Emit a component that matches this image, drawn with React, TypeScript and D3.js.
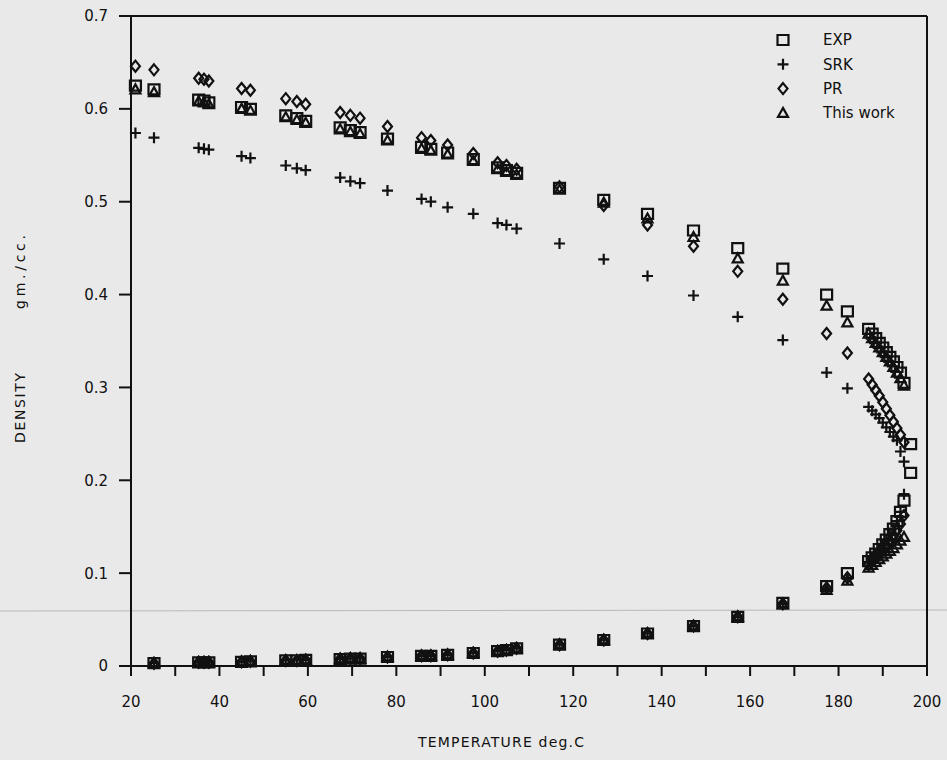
import React from 'react';
import * as d3 from 'd3';

// Temperatures (deg C) at which densities are reported
const temperatures = [
  21, 25.2, 35.3, 36.5, 37.6, 45, 47, 55, 57.5, 59.5,
  67.3, 69.6, 71.8, 78, 85.7, 87.8, 91.6, 97.4, 102.9, 104.9,
  107.2, 116.9, 126.9, 136.8, 147.2, 157.2, 167.4, 177.3, 182, 186.8,
  187.6, 188.4, 189.2, 190.0, 190.8, 191.6, 192.4, 193.2, 194.0, 194.8,
  196.3,
];

// Saturated liquid densities (gm./cc.)
const expLiquid = [
  0.625, 0.621, 0.610, 0.609, 0.607, 0.602, 0.600, 0.593, 0.590, 0.587,
  0.580, 0.577, 0.575, 0.568, 0.559, 0.557, 0.553, 0.546, 0.537, 0.534,
  0.531, 0.515, 0.502, 0.487, 0.469, 0.450, 0.428, 0.400, 0.382, 0.363,
  0.358, 0.353, 0.348, 0.343, 0.338, 0.333, 0.328, 0.322, 0.316, 0.305,
  0.239,
];
const srkLiquid = [
  0.574, 0.569, 0.558, 0.557, 0.556, 0.549, 0.547, 0.539, 0.536, 0.534,
  0.526, 0.522, 0.520, 0.512, 0.503, 0.500, 0.494, 0.487, 0.477, 0.475,
  0.471, 0.455, 0.438, 0.420, 0.399, 0.376, 0.351, 0.316, 0.299, 0.279,
  0.275, 0.271, 0.267, 0.262, 0.257, 0.252, 0.247, 0.243, 0.231, 0.220,
  null,
];
const prLiquid = [
  0.646, 0.642, 0.633, 0.632, 0.630, 0.622, 0.620, 0.611, 0.608, 0.605,
  0.596, 0.593, 0.590, 0.581, 0.569, 0.566, 0.561, 0.552, 0.542, 0.539,
  0.535, 0.516, 0.496, 0.475, 0.452, 0.425, 0.395, 0.358, 0.337, 0.309,
  0.303, 0.297, 0.291, 0.284, 0.277, 0.270, 0.263, 0.256, 0.249, 0.241,
  null,
];
const thisWorkLiquid = [
  0.621, 0.618, 0.608, 0.607, 0.605, 0.600, 0.598, 0.591, 0.588, 0.585,
  0.578, 0.575, 0.573, 0.566, 0.557, 0.555, 0.551, 0.544, 0.535, 0.532,
  0.529, 0.513, 0.499, 0.482, 0.462, 0.439, 0.415, 0.388, 0.370, 0.358,
  0.353, 0.348, 0.343, 0.338, 0.333, 0.328, 0.322, 0.316, 0.310, 0.302,
  null,
];

// Saturated vapour densities (gm./cc.)
const expVapor = [
  null, 0.003, 0.004, 0.004, 0.004, 0.0045, 0.005, 0.006, 0.006, 0.0065,
  0.0075, 0.008, 0.008, 0.0097, 0.011, 0.011, 0.012, 0.014, 0.016, 0.017,
  0.019, 0.023, 0.028, 0.035, 0.043, 0.053, 0.068, 0.086, 0.100, 0.113,
  0.117, 0.121, 0.126, 0.131, 0.136, 0.142, 0.148, 0.156, 0.166, 0.178,
  0.208,
];
const srkVapor = [
  null, 0.003, 0.004, 0.004, 0.004, 0.0045, 0.005, 0.006, 0.006, 0.0065,
  0.0075, 0.008, 0.008, 0.0097, 0.011, 0.011, 0.012, 0.014, 0.016, 0.017,
  0.019, 0.023, 0.028, 0.035, 0.043, 0.053, 0.067, 0.083, 0.094, 0.112,
  0.116, 0.120, 0.125, 0.130, 0.135, 0.141, 0.148, 0.156, 0.166, 0.185,
  null,
];
const prVapor = [
  null, 0.003, 0.004, 0.004, 0.004, 0.0045, 0.005, 0.006, 0.006, 0.0065,
  0.0075, 0.008, 0.008, 0.0097, 0.011, 0.011, 0.012, 0.014, 0.016, 0.017,
  0.019, 0.023, 0.028, 0.035, 0.043, 0.053, 0.067, 0.084, 0.095, 0.109,
  0.113, 0.117, 0.121, 0.125, 0.130, 0.135, 0.140, 0.146, 0.153, 0.162,
  null,
];
const thisWorkVapor = [
  null, 0.003, 0.004, 0.004, 0.004, 0.0045, 0.005, 0.006, 0.006, 0.0065,
  0.0075, 0.008, 0.008, 0.0097, 0.011, 0.011, 0.012, 0.014, 0.016, 0.017,
  0.019, 0.023, 0.028, 0.035, 0.043, 0.053, 0.066, 0.082, 0.092, 0.106,
  0.109, 0.112, 0.115, 0.118, 0.121, 0.124, 0.127, 0.131, 0.135, 0.139,
  null,
];

const xTickValues = [20, 30, 40, 50, 60, 70, 80, 90, 100, 110, 120, 130, 140, 150, 160, 170, 180, 190, 200];
const xTickLabels = ['20', '40', '60', '80', '100', '120', '140', '160', '180', '200'];
const yTickLabels = ['0', '0.1', '0.2', '0.3', '0.4', '0.5', '0.6', '0.7'];

const seriesNames = ['EXP', 'SRK', 'PR', 'This work'];
const seriesShapes = ['square', 'plus', 'diamond', 'triangle'];

const W = 947;
const H = 760;
const FONT = "'DejaVu Sans', sans-serif";
const INK = '#111111';
const MARK_W = 2.2;

const x = d3.scaleLinear().domain([20, 200]).range([131, 927]);
const y = d3.scaleLinear().domain([0, 0.7]).range([666, 16]);

function shapePath(kind: string, cx: number, cy: number): string {
  const p = d3.path();
  if (kind === 'square') {
    p.rect(cx - 5.5, cy - 5, 11, 10);
  } else if (kind === 'plus') {
    p.moveTo(cx - 5.5, cy); p.lineTo(cx + 5.5, cy);
    p.moveTo(cx, cy - 5.5); p.lineTo(cx, cy + 5.5);
  } else if (kind === 'diamond') {
    p.moveTo(cx, cy - 5.5); p.lineTo(cx + 4.5, cy); p.lineTo(cx, cy + 5.5); p.lineTo(cx - 4.5, cy); p.closePath();
  } else {
    p.moveTo(cx, cy - 5); p.lineTo(cx + 5, cy + 4); p.lineTo(cx - 5, cy + 4); p.closePath();
  }
  return p.toString();
}

export default function App() {
  const liquid = [expLiquid, srkLiquid, prLiquid, thisWorkLiquid];
  const vapor = [expVapor, srkVapor, prVapor, thisWorkVapor];
  const drawOrder = [3, 2, 1, 0];

  const marks: React.ReactNode[] = [];
  drawOrder.forEach((si) => {
    [liquid[si], vapor[si]].forEach((arr, bi) => {
      arr.forEach((v, i) => {
        if (v === null || v === undefined) return;
        marks.push(
          <path
            key={`m-${si}-${bi}-${i}`}
            d={shapePath(seriesShapes[si], x(temperatures[i]), y(v))}
            fill="none"
            stroke={INK}
            strokeWidth={MARK_W}
          />
        );
      });
    });
  });

  const yTickValues = yTickLabels.map((t) => +t);

  return (
    <svg
      width={W}
      height={H}
      viewBox={`0 0 ${W} ${H}`}
      style={{ position: 'absolute', left: 0, top: 0, display: 'block' }}
    >
      <rect x={0} y={0} width={W} height={H} fill="#e9e9e9" />
      {/* faint scan line */}
      <line x1={0} x2={W} y1={611} y2={610} stroke="#b8b8b8" strokeWidth={1} />

      {/* frame */}
      <line x1={x(20) - 12} x2={x(200)} y1={y(0.7)} y2={y(0.7)} stroke={INK} strokeWidth={2} />
      <line x1={x(200)} x2={x(200)} y1={y(0.7)} y2={y(0) + 10} stroke={INK} strokeWidth={2} />
      <line x1={x(20)} x2={x(20)} y1={y(0.7)} y2={y(0) + 10} stroke={INK} strokeWidth={2} />
      <line x1={x(20)} x2={x(200)} y1={y(0)} y2={y(0)} stroke={INK} strokeWidth={2} />

      {/* x ticks */}
      {xTickValues.map((t) => (
        <line key={`xt-${t}`} x1={x(t)} x2={x(t)} y1={y(0)} y2={y(0) + 10} stroke={INK} strokeWidth={2} />
      ))}
      {xTickLabels.map((t) => (
        <text key={`xl-${t}`} x={x(+t)} y={707} textAnchor="middle" fontFamily={FONT} fontSize={15} fill={INK}>
          {t}
        </text>
      ))}

      {/* y ticks */}
      {yTickValues.map((v, i) => (
        <g key={`yt-${i}`}>
          <line x1={x(20) - 12} x2={x(20)} y1={y(v)} y2={y(v)} stroke={INK} strokeWidth={2} />
          <text x={108} y={y(v)} dy="0.36em" textAnchor="end" fontFamily={FONT} fontSize={15} fill={INK}>
            {yTickLabels[i]}
          </text>
        </g>
      ))}

      {/* axis titles */}
      <text x={418} y={747} fontFamily={FONT} fontSize={14} fill={INK} textLength={166} lengthAdjust="spacing">
        TEMPERATURE deg.C
      </text>
      <text transform="translate(25,408) rotate(-90)" textAnchor="middle" fontFamily={FONT} fontSize={14} fill={INK} textLength={70} lengthAdjust="spacing">
        DENSITY
      </text>
      <text transform="translate(25,272) rotate(-90)" textAnchor="middle" fontFamily={FONT} fontSize={14} fill={INK} textLength={74} lengthAdjust="spacing">
        gm./cc.
      </text>

      {/* data */}
      {marks}

      {/* legend */}
      {seriesNames.map((name, i) => {
        const ly = 40 + i * 24.3;
        return (
          <g key={`lg-${name}`}>
            <path d={shapePath(seriesShapes[i], 783, ly)} fill="none" stroke={INK} strokeWidth={MARK_W} />
            <text x={823} y={ly} dy="0.36em" fontFamily={FONT} fontSize={15} fill={INK}>
              {name}
            </text>
          </g>
        );
      })}
    </svg>
  );
}
